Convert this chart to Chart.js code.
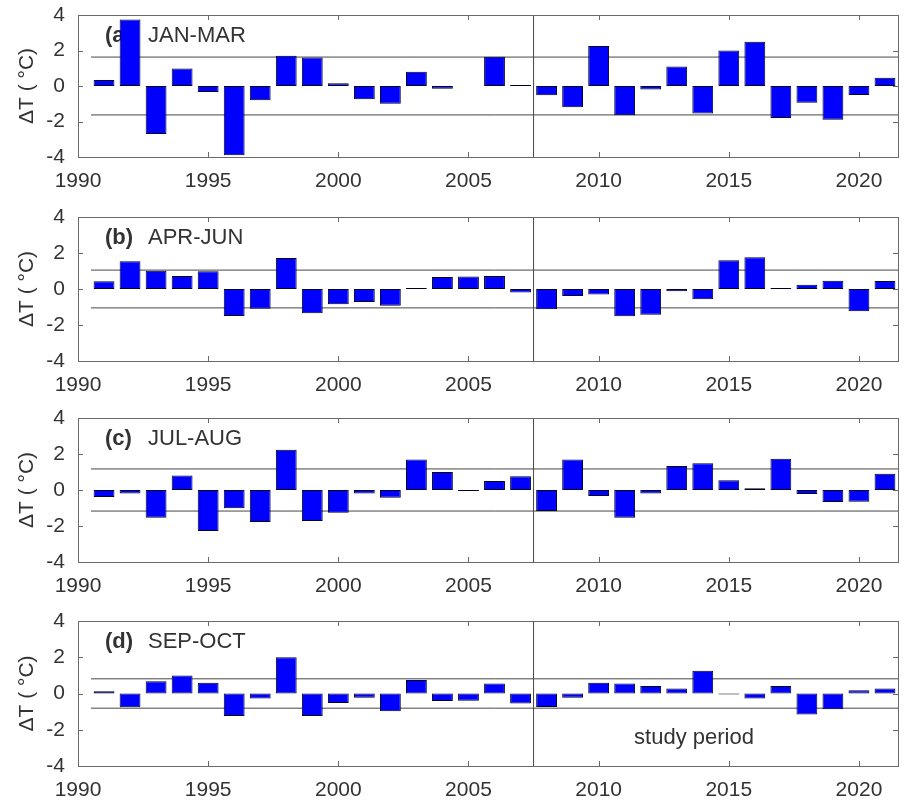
<!DOCTYPE html>
<html>
<head>
<meta charset="utf-8">
<script src="https://cdn.jsdelivr.net/npm/chart.js@4/dist/chart.umd.min.js"></script>
<style>
  body { margin: 0; background: #fff; width: 906px; height: 805px; overflow: hidden; }
  canvas { position: absolute; left: 0; }
</style>
</head>
<body>
<canvas id="pa"></canvas>
<canvas id="pb"></canvas>
<canvas id="pc"></canvas>
<canvas id="pd"></canvas>
<script>
// years on the x axis
const years = [1991, 1992, 1993, 1994, 1995, 1996, 1997, 1998, 1999, 2000,
  2001, 2002, 2003, 2004, 2005, 2006, 2007, 2008, 2009, 2010,
  2011, 2012, 2013, 2014, 2015, 2016, 2017, 2018, 2019, 2020, 2021];

// temperature anomalies (degC) per season
const janMar = [0.34, 3.75, -2.7, 0.98, -0.34, -3.9, -0.8, 1.7, 1.6, 0.15,
  -0.75, -1.0, 0.8, -0.15, 0.0, 1.65, 0.06, -0.52, -1.2, 2.25,
  -1.65, -0.2, 1.1, -1.55, 2.0, 2.5, -1.8, -0.95, -1.9, -0.5, 0.47];
const aprJun = [0.43, 1.54, 1.02, 0.72, 0.98, -1.5, -1.1, 1.72, -1.35, -0.85,
  -0.72, -0.93, 0.06, 0.67, 0.7, 0.72, -0.2, -1.13, -0.39, -0.3,
  -1.52, -1.43, -0.13, -0.57, 1.6, 1.76, 0.06, 0.24, 0.46, -1.24, 0.44];
const julAug = [-0.39, -0.2, -1.54, 0.81, -2.28, -1.02, -1.78, 2.24, -1.72, -1.26,
  -0.2, -0.43, 1.69, 1.0, -0.06, 0.5, 0.76, -1.17, 1.7, -0.33,
  -1.54, -0.19, 1.33, 1.48, 0.54, 0.1, 1.74, -0.22, -0.67, -0.65, 0.9];
const sepOct = [0.13, -0.76, 0.68, 1.0, 0.6, -1.24, -0.28, 2.0, -1.24, -0.52,
  -0.24, -0.98, 0.74, -0.42, -0.4, 0.55, -0.55, -0.74, -0.24, 0.6,
  0.55, 0.42, 0.28, 1.25, -0.06, -0.28, 0.42, -1.16, -0.87, 0.18, 0.28];

// +/- one standard deviation for each season
const stdDev = [1.63, 1.05, 1.17, 0.81];

const panelLetters = ['(a)', '(b)', '(c)', '(d)'];
const seasonNames = ['JAN-MAR', 'APR-JUN', 'JUL-AUG', 'SEP-OCT'];

// axes settings
const xMin = 1990, xMax = 2021.5;
const sdStart = 1990.5;
const studyStart = 2007.5;
const yTicks = [-4, -2, 0, 2, 4];
const xTicks = [1990, 1995, 2000, 2005, 2010, 2015, 2020];

const FONT = '"Liberation Sans", Arial, sans-serif';
const TEXT = '#333333';

// layout of the four panels (top of plot area, plot height)
const panelTops = [15, 217, 418, 621];
const panelHeights = [142, 144, 144, 145];
const PAD_TOP = 14, X_AXIS_H = 40;

// frame + inward ticks, drawn like matlab's box on
const framePlugin = {
  id: 'frame',
  afterDatasetsDraw(chart) {
    const { ctx, chartArea: a, scales } = chart;
    ctx.save();
    ctx.strokeStyle = '#6a6a6a';
    ctx.lineWidth = 1;
    ctx.strokeRect(Math.round(a.left) + 0.5, Math.round(a.top) + 0.5,
      Math.round(a.right - a.left), Math.round(a.bottom - a.top));
    ctx.beginPath();
    xTicks.forEach(v => {
      const px = Math.round(scales.x.getPixelForValue(v)) + 0.5;
      ctx.moveTo(px, a.top); ctx.lineTo(px, a.top + 5);
      ctx.moveTo(px, a.bottom); ctx.lineTo(px, a.bottom - 5);
    });
    yTicks.forEach(v => {
      const py = Math.round(scales.y.getPixelForValue(v)) + 0.5;
      ctx.moveTo(a.left, py); ctx.lineTo(a.left + 5, py);
      ctx.moveTo(a.right, py); ctx.lineTo(a.right - 5, py);
    });
    ctx.stroke();
    ctx.restore();
  }
};

// panel label, drawn under the bars
const labelPlugin = {
  id: 'panelLabel',
  beforeDatasetsDraw(chart, args, opts) {
    const { ctx, chartArea: a } = chart;
    ctx.save();
    ctx.fillStyle = TEXT;
    ctx.textBaseline = 'middle';
    ctx.font = 'bold 22px ' + FONT;
    ctx.fillText(opts.letter, a.left + 27, a.top + 21);
    ctx.font = '22px ' + FONT;
    ctx.fillText(opts.season, a.left + 70, a.top + 21);
    if (opts.note) {
      ctx.textAlign = 'center';
      ctx.fillText(opts.note, a.left + 616, a.bottom - 28);
    }
    ctx.restore();
  }
};

function makePanel(id, idx, values, note) {
  const canvas = document.getElementById(id);
  const h = PAD_TOP + panelHeights[idx] + X_AXIS_H;
  canvas.width = 906;
  canvas.height = h;
  canvas.style.top = (panelTops[idx] - PAD_TOP) + 'px';

  const sd = stdDev[idx];
  const lineStyle = { type: 'line', borderColor: '#474747', borderWidth: 1,
    pointRadius: 0, order: 2, fill: false };

  new Chart(canvas.getContext('2d'), {
    type: 'bar',
    data: {
      datasets: [
        {
          data: years.map((yr, i) => ({ x: yr, y: values[i] })),
          backgroundColor: '#0000ff',
          borderColor: '#000022',
          borderWidth: 1,
          borderSkipped: false,
          barPercentage: 0.8,
          categoryPercentage: 1.0,
          order: 1
        },
        { ...lineStyle, data: [{ x: sdStart, y: sd }, { x: xMax, y: sd }] },
        { ...lineStyle, data: [{ x: sdStart, y: -sd }, { x: xMax, y: -sd }] },
        { ...lineStyle, data: [{ x: studyStart, y: -4 }, { x: studyStart, y: 4 }] }
      ]
    },
    options: {
      responsive: false,
      animation: false,
      layout: { padding: { top: PAD_TOP, right: 8, left: 0, bottom: 0 } },
      plugins: {
        legend: { display: false },
        tooltip: { enabled: false },
        panelLabel: { letter: panelLetters[idx], season: seasonNames[idx], note: note }
      },
      scales: {
        x: {
          type: 'linear',
          min: xMin,
          max: xMax,
          offset: false,
          grid: { display: false, drawTicks: false },
          border: { display: false },
          afterBuildTicks: s => { s.ticks = xTicks.map(v => ({ value: v })); },
          afterFit: s => { s.height = X_AXIS_H; s.paddingLeft = 0; s.paddingRight = 0; },
          ticks: {
            color: TEXT,
            padding: 12,
            maxRotation: 0,
            autoSkip: false,
            font: { family: FONT, size: 21 },
            callback: v => String(v)
          }
        },
        y: {
          min: -4,
          max: 4,
          grid: { display: false, drawTicks: false },
          border: { display: false },
          afterBuildTicks: s => { s.ticks = yTicks.map(v => ({ value: v })); },
          afterFit: s => { s.width = 78; s.paddingTop = 0; s.paddingBottom = 0; },
          ticks: {
            color: TEXT,
            padding: 13,
            font: { family: FONT, size: 21 },
            callback: v => String(v)
          },
          title: {
            display: true,
            text: 'ΔT ( °C)',
            color: TEXT,
            padding: { top: 15, bottom: 0 },
            font: { family: FONT, size: 21 }
          }
        }
      }
    },
    plugins: [labelPlugin, framePlugin]
  });
}

makePanel('pa', 0, janMar, null);
makePanel('pb', 1, aprJun, null);
makePanel('pc', 2, julAug, null);
makePanel('pd', 3, sepOct, 'study period');
</script>
</body>
</html>
